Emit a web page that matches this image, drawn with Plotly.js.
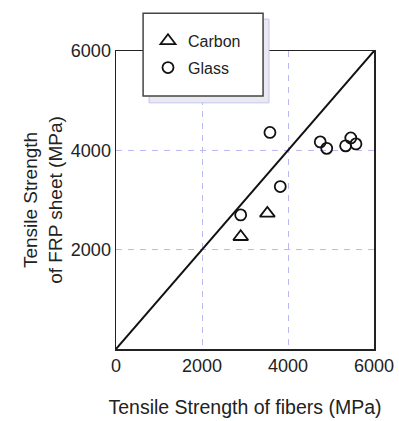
<!DOCTYPE html>
<html>
<head>
<meta charset="utf-8">
<script src="https://cdn.plot.ly/plotly-3.0.1.min.js"></script>
<style>html,body{margin:0;padding:0;background:#fff;}#chart{width:399px;height:421px;}</style>
</head>
<body>
<div id="chart"></div>
<script>
// Data (MPa)
var carbonX = [2900, 3520];
var carbonY = [2260, 2730];
var glassX = [2900, 3580, 3820, 4750, 4900, 5340, 5460, 5580];
var glassY = [2700, 4360, 3270, 4170, 4040, 4090, 4250, 4130];
var equalityX = [0, 6000];
var equalityY = [0, 6000];
var xTickVals = [0, 2000, 4000, 6000];
var xTickText = ['0', '2000', '4000', '6000'];
var yTickVals = [2000, 4000, 6000];
var yTickText = ['2000', '4000', '6000'];

var FONT = 'Liberation Sans, Arial, sans-serif';

var traces = [
  {
    x: equalityX, y: equalityY, mode: 'lines', showlegend: false,
    line: {color: '#111', width: 2}, hoverinfo: 'skip'
  },
  {
    x: carbonX, y: carbonY, mode: 'markers', name: 'Carbon', legendgroup: 'c',
    marker: {symbol: 'triangle-up-open', size: 13, color: '#111', line: {width: 1.8, color: '#111'}}
  },
  {
    x: glassX, y: glassY, mode: 'markers', name: 'Glass', legendgroup: 'g',
    marker: {symbol: 'circle-open', size: 11, color: '#111', line: {width: 1.8, color: '#111'}}
  }
];

var axisCommon = {
  range: [0, 6000],
  showline: true, mirror: true, linecolor: '#222', linewidth: 1.5,
  showgrid: true, gridcolor: '#b8b8f2', gridwidth: 1, griddash: '6px,6px',
  zeroline: false, ticks: '', fixedrange: true,
  tickfont: {family: FONT, size: 18, color: '#222'}
};

var layout = {
  width: 399, height: 421,
  margin: {l: 116, r: 25, t: 51, b: 72, pad: 0},
  paper_bgcolor: '#fff', plot_bgcolor: '#fff',
  font: {family: FONT, color: '#222'},
  xaxis: Object.assign({}, axisCommon, {
    tickvals: xTickVals, ticktext: xTickText,
    title: {text: 'Tensile Strength of fibers (MPa)', font: {family: FONT, size: 19.5, color: '#222'}, standoff: 25}
  }),
  yaxis: Object.assign({}, axisCommon, {
    tickvals: yTickVals, ticktext: yTickText,
    title: {text: 'Tensile Strength<br>of FRP sheet (MPa)', font: {family: FONT, size: 19, color: '#222'}, standoff: 3}
  }),
  showlegend: true,
  legend: {
    x: 0.124, y: 1.091, xanchor: 'left', yanchor: 'top',
    bgcolor: 'rgba(0,0,0,0)', borderwidth: 0,
    font: {family: FONT, size: 16, color: '#222'},
    traceorder: 'grouped', tracegroupgap: 3
  },
  shapes: [
    {type: 'rect', xref: 'paper', yref: 'paper', x0: 0.128, x1: 0.593, y0: 0.826, y1: 1.107,
     fillcolor: '#e9e9ef', line: {color: '#c4c4f2', width: 1}, layer: 'above'},
    {type: 'rect', xref: 'paper', yref: 'paper', x0: 0.105, x1: 0.570, y0: 0.849, y1: 1.127,
     fillcolor: '#fff', line: {color: '#444', width: 1.5}, layer: 'above'}
  ]
};

Plotly.newPlot('chart', traces, layout, {displayModeBar: false, staticPlot: true});
</script>
</body>
</html>
